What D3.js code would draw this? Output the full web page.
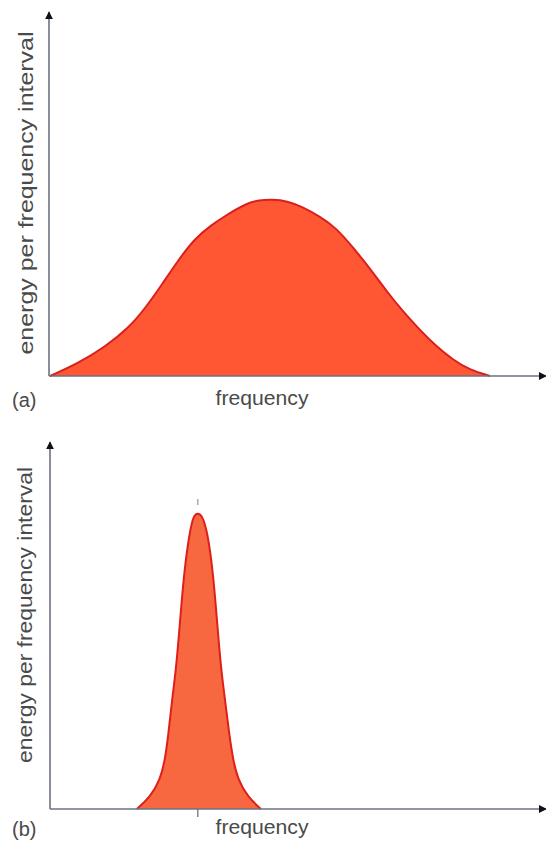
<!DOCTYPE html>
<html>
<head>
<meta charset="utf-8">
<script src="https://cdn.jsdelivr.net/npm/d3@7"></script>
<style>
  body { margin: 0; background: #fff; }
  svg text { font-family: "Liberation Sans", Arial, sans-serif; fill: #4a4a4a; }
</style>
</head>
<body>
<div id="chart"></div>
<script>
// (a) broad spectrum: frequency vs energy per frequency interval (arbitrary units 0-100)
const broadFreq = [0.2, 5.9, 11.3, 16.0, 19.4, 22.7, 26.1, 29.4, 32.8, 35.5, 39.9, 42.3, 45.0, 48.0, 51.2, 54.6, 58.0, 61.4, 64.7, 68.1, 71.4, 74.8, 78.2, 81.5, 84.9, 88.9];
const broadEnergy = [0, 3.5, 8.0, 13.1, 18.6, 25.0, 31.9, 37.8, 41.5, 44.0, 47.5, 48.3, 48.5, 48.1, 46.4, 43.8, 40.6, 35.1, 29.6, 23.2, 17.7, 12.6, 8.0, 4.4, 1.6, 0];

// (b) narrow spectrum
const narrowFreq = [17.5, 20.2, 22.2, 23.2, 23.9, 24.6, 25.4, 26.2, 27.0, 28.2, 29.0, 29.8, 30.6, 31.7, 32.9, 33.7, 34.5, 35.3, 36.1, 36.9, 37.9, 39.9, 42.5];
const narrowEnergy = [0, 3.3, 8.0, 13.5, 20.9, 29.9, 38.2, 51.1, 64.8, 76.6, 80.8, 81.3, 80.8, 76.6, 64.8, 51.1, 38.2, 29.9, 20.9, 13.5, 8.0, 3.3, 0];
const narrowPeak = 29.8;

const panelLabels = ["(a)", "(b)"];
const xLabel = "frequency";
const yLabel = "energy per frequency interval";

const width = 546, height = 846;

const svg = d3.select("#chart").append("svg")
    .attr("width", width)
    .attr("height", height);

const defs = svg.append("defs");
defs.append("marker")
    .attr("id", "arrow")
    .attr("viewBox", "0 0 10 10")
    .attr("refX", 9).attr("refY", 5)
    .attr("markerWidth", 5).attr("markerHeight", 5)
    .attr("markerUnits", "strokeWidth")
    .attr("orient", "auto")
    .append("path")
    .attr("d", "M0,0 L10,5 L0,10 Z")
    .attr("fill", "#111");

const panels = [
    {freq: broadFreq, energy: broadEnergy, left: 49, right: 546, base: 376, top: 12, yLabelLen: 323, yLabelX: 33, yLabelMid: 193,
     fill: "#ff5634", stroke: "#d9201c", label: panelLabels[0], labelY: 407},
    {freq: narrowFreq, energy: narrowEnergy, left: 50, right: 546, base: 809, top: 442, yLabelLen: 296, yLabelX: 32, yLabelMid: 615,
     fill: "#f76840", stroke: "#de1f1a", label: panelLabels[1], labelY: 836, peak: narrowPeak}
];

panels.forEach(p => {
    const g = svg.append("g");

    const x = d3.scaleLinear().domain([0, 100]).range([p.left, p.left + 496]);
    const y = d3.scaleLinear().domain([0, 100]).range([p.base, p.base - 364]);

    const data = p.freq.map((f, i) => ({f: f, e: p.energy[i]}));

    // basis curve smooths out reading jitter
    const area = d3.area()
        .x(d => x(d.f))
        .y0(y(0))
        .y1(d => y(d.e))
        .curve(d3.curveBasis);

    const line = d3.line()
        .x(d => x(d.f))
        .y(d => y(d.e))
        .curve(d3.curveBasis);

    g.append("path")
        .datum(data)
        .attr("d", area)
        .attr("fill", p.fill);

    g.append("path")
        .datum(data)
        .attr("d", line)
        .attr("fill", "none")
        .attr("stroke", p.stroke)
        .attr("stroke-width", 2);

    // axes with arrowheads
    g.append("line")
        .attr("x1", p.left).attr("y1", p.base)
        .attr("x2", p.right).attr("y2", p.base)
        .attr("stroke", "#6c7282")
        .attr("stroke-width", 1.6)
        .attr("marker-end", "url(#arrow)");

    g.append("line")
        .attr("x1", p.left).attr("y1", p.base)
        .attr("x2", p.left).attr("y2", p.top)
        .attr("stroke", "#6c7282")
        .attr("stroke-width", 1.6)
        .attr("marker-end", "url(#arrow)");

    // small marks at the peak frequency
    if (p.peak !== undefined) {
        g.append("line")
            .attr("x1", x(p.peak)).attr("x2", x(p.peak))
            .attr("y1", p.base).attr("y2", p.base + 8)
            .attr("stroke", "#666").attr("stroke-width", 1.2);
        g.append("line")
            .attr("x1", x(p.peak)).attr("x2", x(p.peak))
            .attr("y1", y(d3.max(p.energy)) - 14).attr("y2", y(d3.max(p.energy)) - 8)
            .attr("stroke", "#999").attr("stroke-width", 1.2);
    }

    g.append("text")
        .attr("x", 12)
        .attr("y", p.labelY)
        .attr("font-size", 20)
        .text(p.label);

    g.append("text")
        .attr("x", 262)
        .attr("y", p.labelY - 2)
        .attr("text-anchor", "middle")
        .attr("font-size", 21)
        .attr("textLength", 93)
        .attr("lengthAdjust", "spacingAndGlyphs")
        .text(xLabel);

    g.append("text")
        .attr("transform", `translate(${p.yLabelX},${p.yLabelMid}) rotate(-90)`)
        .attr("text-anchor", "middle")
        .attr("font-size", 21)
        .attr("textLength", p.yLabelLen)
        .attr("lengthAdjust", "spacingAndGlyphs")
        .text(yLabel);
});
</script>
</body>
</html>
